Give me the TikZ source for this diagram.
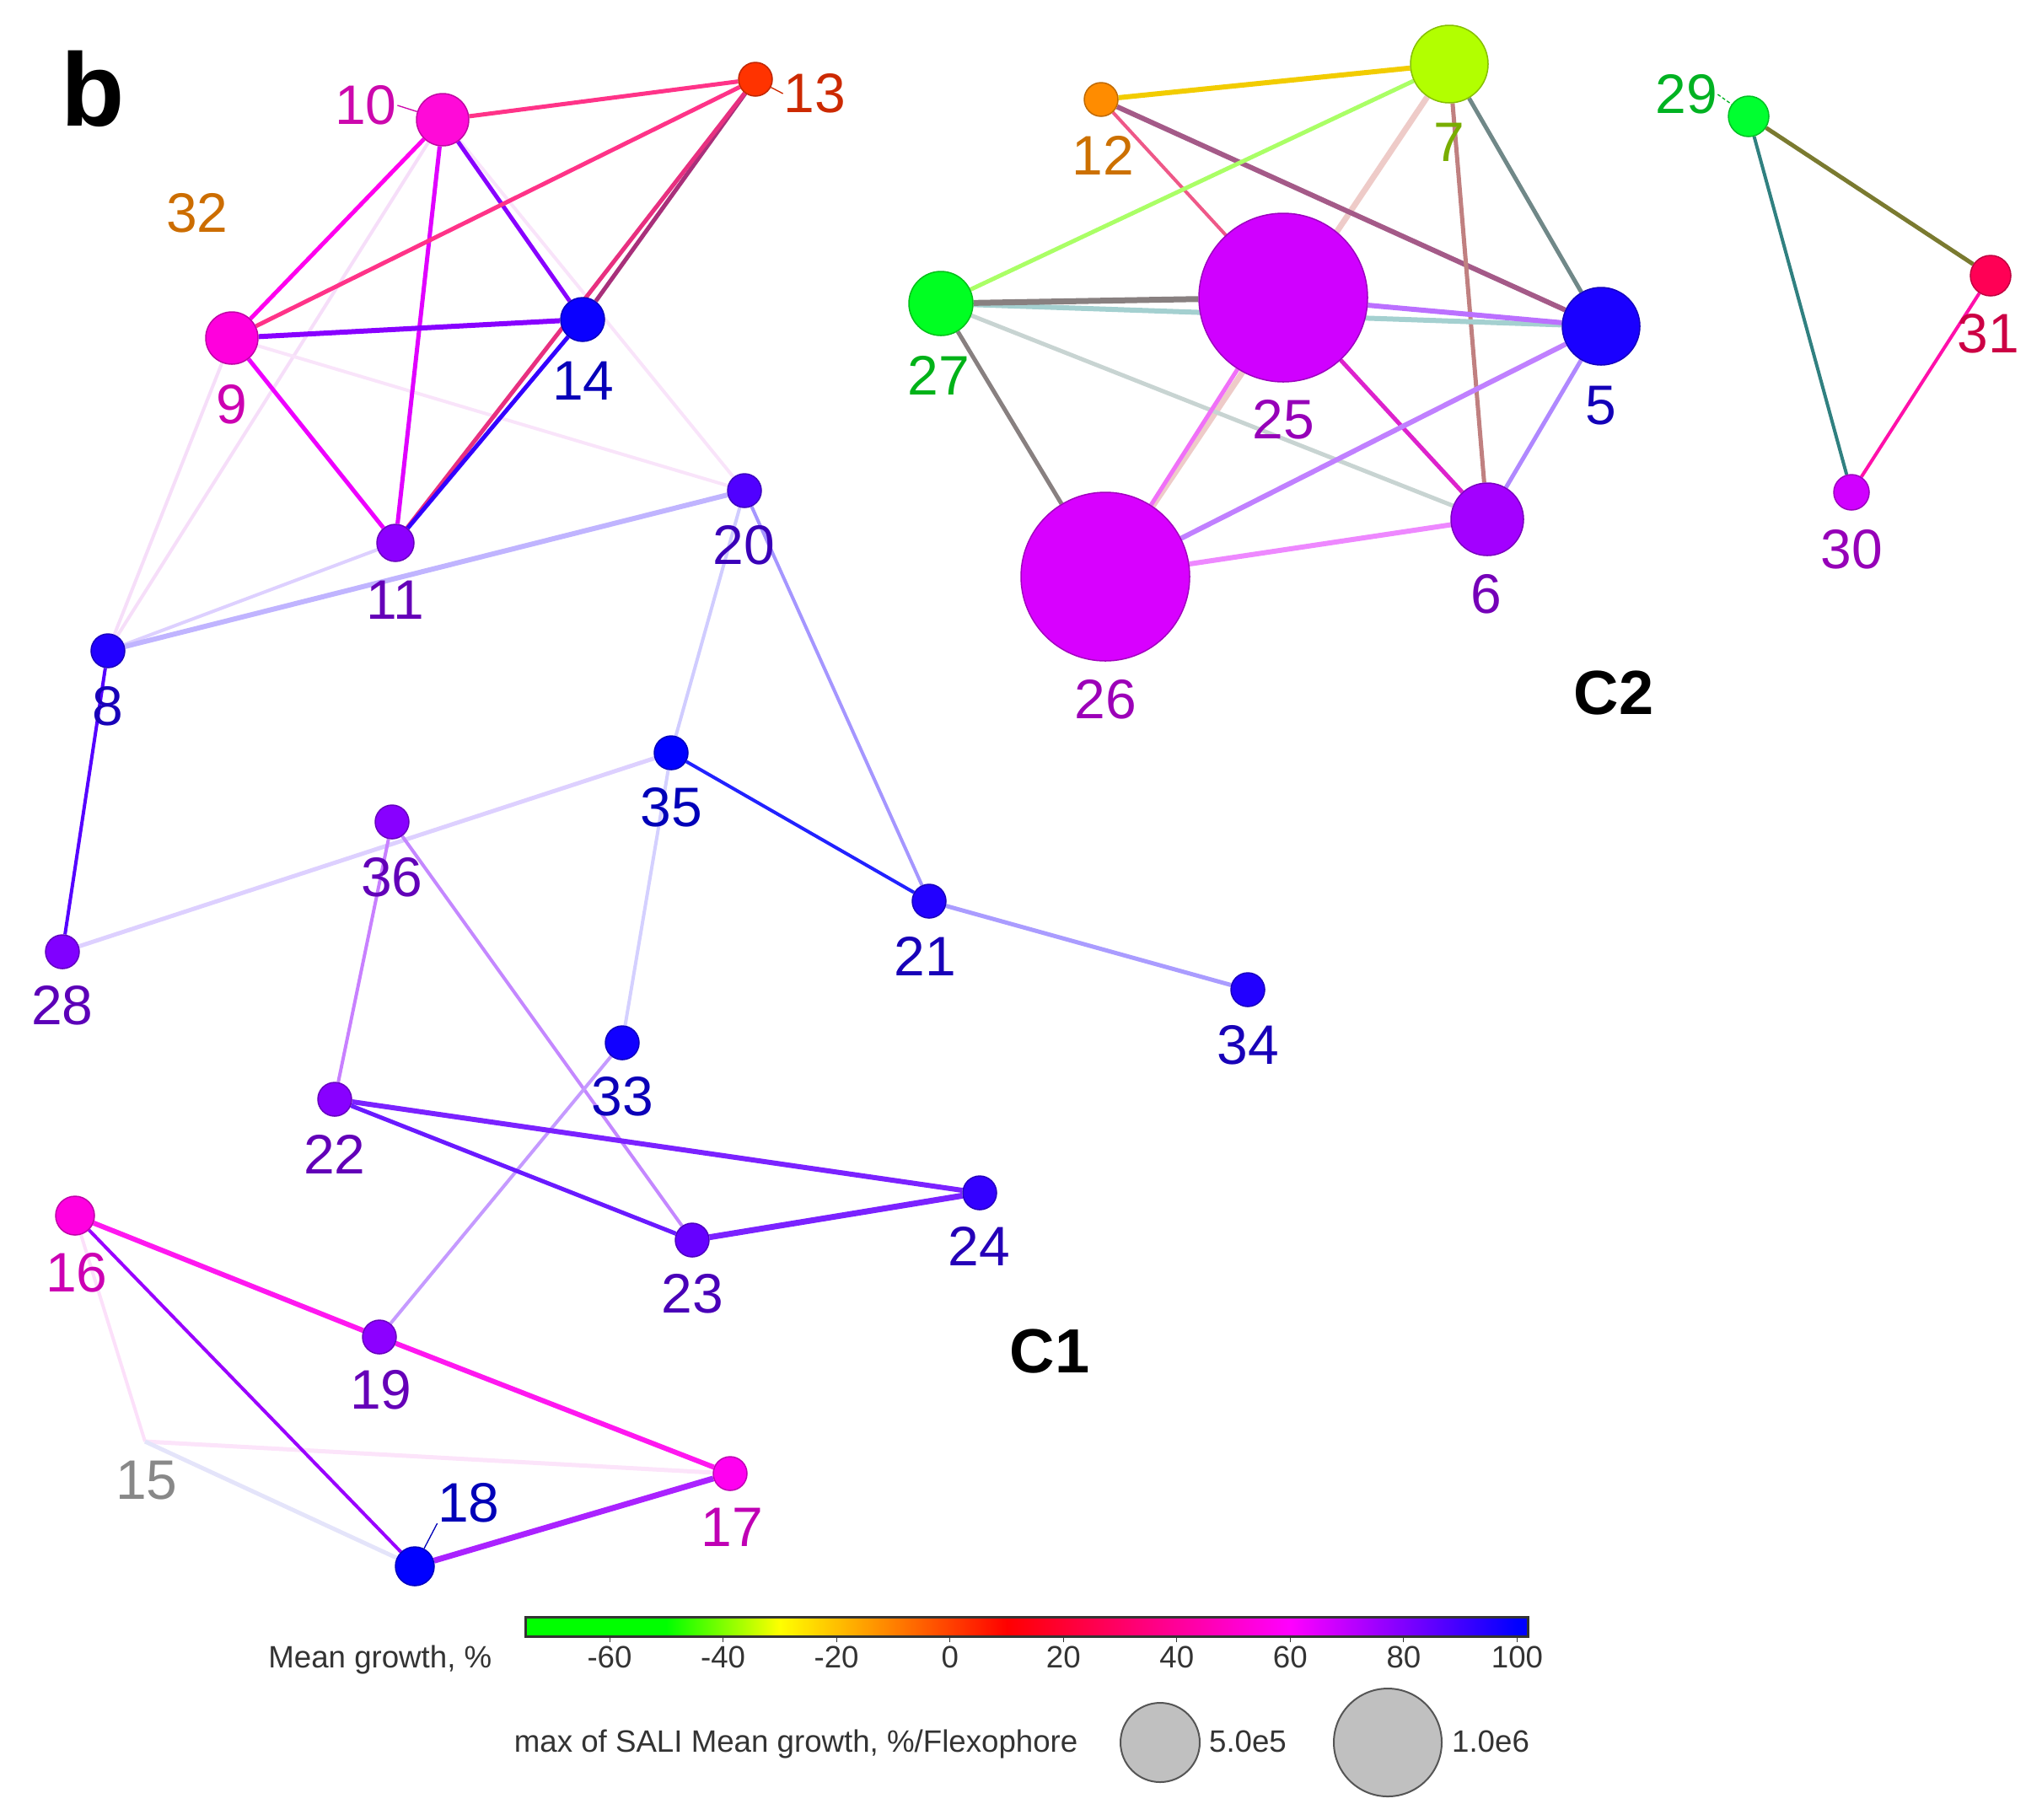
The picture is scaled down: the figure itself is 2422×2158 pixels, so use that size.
\documentclass[tikz,border=0pt]{standalone}
\usepackage{fontspec}
\setmainfont{Liberation Sans}
\pgfdeclarelayer{background}
\pgfsetlayers{background,main}
% node colours
\definecolor{c5}{HTML}{1A00FF}
\definecolor{c6}{HTML}{A300FF}
\definecolor{c7}{HTML}{B2FF00}
\definecolor{c8}{HTML}{2200FF}
\definecolor{c9}{HTML}{FF00DD}
\definecolor{c10}{HTML}{FF0AD8}
\definecolor{c11}{HTML}{8C00FF}
\definecolor{c12}{HTML}{FF8C00}
\definecolor{c13}{HTML}{FF3300}
\definecolor{c14}{HTML}{0A00FF}
\definecolor{c16}{HTML}{FF00E0}
\definecolor{c17}{HTML}{FF00F0}
\definecolor{c18}{HTML}{0000FF}
\definecolor{c19}{HTML}{8C00FF}
\definecolor{c20}{HTML}{5000FF}
\definecolor{c21}{HTML}{2200FF}
\definecolor{c22}{HTML}{8800FF}
\definecolor{c23}{HTML}{6600FF}
\definecolor{c24}{HTML}{3300FF}
\definecolor{c25}{HTML}{D000FF}
\definecolor{c26}{HTML}{D800FF}
\definecolor{c27}{HTML}{00FF22}
\definecolor{c28}{HTML}{8000FF}
\definecolor{c29}{HTML}{00FF30}
\definecolor{c30}{HTML}{D000FF}
\definecolor{c31}{HTML}{FF0055}
\definecolor{c32}{HTML}{FF8800}
\definecolor{c33}{HTML}{1100FF}
\definecolor{c34}{HTML}{2200FF}
\definecolor{c35}{HTML}{0000FF}
\definecolor{c36}{HTML}{8800FF}
\definecolor{legtext}{HTML}{333333}
\begin{document}
\begin{tikzpicture}[x=0.3pt,y=-0.3pt,
  gnode/.style={circle,inner sep=0pt,line width=0.45pt,fill=#1,draw=#1!75!black},
  lbl/.style={inner sep=0pt,font=\fontsize{19.8}{20}\selectfont},
  leg/.style={inner sep=0pt,font=\fontsize{11}{12}\selectfont,text=legtext},
  edge/.style={line width=1.5pt},
  thin/.style={line width=1.2pt},
  thick/.style={line width=1.8pt},
  vthick/.style={line width=2.1pt},
  clabel/.style={inner sep=0pt,font=\bfseries\fontsize{22.2}{23}\selectfont}]
\useasboundingbox (0,0) rectangle (2422,2158);

% ---------- nodes ----------
\coordinate (n15) at (172,1710);
\node[gnode=c5,minimum size=27.6pt] (n5) at (1899,387) {};
\node[gnode=c6,minimum size=25.8pt] (n6) at (1764,616) {};
\node[gnode=c7,minimum size=27.6pt] (n7) at (1719,76) {};
\node[gnode=c8,minimum size=12pt] (n8) at (128,772) {};
\node[gnode=c9,minimum size=18.6pt] (n9) at (275,401) {};
\node[gnode=c10,minimum size=18.6pt] (n10) at (525,142) {};
\node[gnode=c11,minimum size=13.2pt] (n11) at (469,644) {};
\node[gnode=c12,minimum size=12pt] (n12) at (1306,118) {};
\node[gnode=c13,minimum size=12pt] (n13) at (896,94) {};
\node[gnode=c14,minimum size=15.6pt] (n14) at (691,379) {};
\node[gnode=c16,minimum size=13.8pt] (n16) at (89,1442) {};
\node[gnode=c17,minimum size=12pt] (n17) at (866,1748) {};
\node[gnode=c18,minimum size=13.8pt] (n18) at (492,1858) {};
\node[gnode=c19,minimum size=12pt] (n19) at (450,1586) {};
\node[gnode=c20,minimum size=12pt] (n20) at (883,582) {};
\node[gnode=c21,minimum size=12pt] (n21) at (1102,1069) {};
\node[gnode=c22,minimum size=12pt] (n22) at (397,1304) {};
\node[gnode=c23,minimum size=12pt] (n23) at (821,1471) {};
\node[gnode=c24,minimum size=12pt] (n24) at (1162,1415) {};
\node[gnode=c25,minimum size=60pt] (n25) at (1522,353) {};
\node[gnode=c26,minimum size=60pt] (n26) at (1311,684) {};
\node[gnode=c27,minimum size=22.8pt] (n27) at (1116,360) {};
\node[gnode=c28,minimum size=12pt] (n28) at (74,1129) {};
\node[gnode=c29,minimum size=14.4pt] (n29) at (2074,138) {};
\node[gnode=c30,minimum size=12.6pt] (n30) at (2196,584) {};
\node[gnode=c31,minimum size=14.4pt] (n31) at (2361,327) {};
\node[gnode=c33,minimum size=12pt] (n33) at (738,1237) {};
\node[gnode=c34,minimum size=12pt] (n34) at (1480,1174) {};
\node[gnode=c35,minimum size=12pt] (n35) at (796,893) {};
\node[gnode=c36,minimum size=12pt] (n36) at (465,975) {};

% ---------- edges ----------
\begin{pgfonlayer}{background}
\draw[thin,draw={rgb,255:red,246;green,222;blue,249}] (n10) -- (n8);
\draw[thin,draw={rgb,255:red,249;green,228;blue,250}] (n10) -- (n20);
\draw[thin,draw={rgb,255:red,246;green,222;blue,249}] (n9) -- (n8);
\draw[thin,draw={rgb,255:red,249;green,228;blue,250}] (n9) -- (n20);
\draw[thin,draw={rgb,255:red,252;green,224;blue,250}] (n16) -- (n15);
\draw[edge,draw={rgb,255:red,252;green,228;blue,250}] (n15) -- (n17);
\draw[edge,draw={rgb,255:red,228;green,228;blue,250}] (n15) -- (n18);
\draw[thin,draw={rgb,255:red,221;green,208;blue,255}] (n11) -- (n8);
\draw[thick,draw={rgb,255:red,192;green,180;blue,255}] (n8) -- (n20);
\draw[thin,draw={rgb,255:red,208;green,204;blue,255}] (n20) -- (n35);
\draw[thin,draw={rgb,255:red,165;green,150;blue,255}] (n20) -- (n21);
\draw[edge,draw={rgb,255:red,221;green,208;blue,255}] (n35) -- (n28);
\draw[thin,draw={rgb,255:red,212;green,208;blue,255}] (n35) -- (n33);
\draw[edge,draw={rgb,255:red,170;green,156;blue,255}] (n21) -- (n34);
\draw[thin,draw={rgb,255:red,200;green,128;blue,255}] (n36) -- (n22);
\draw[thin,draw={rgb,255:red,196;green,136;blue,255}] (n36) -- (n23);
\draw[thin,draw={rgb,255:red,197;green,154;blue,255}] (n33) -- (n19);
\draw[edge,draw={rgb,255:red,255;green,0;blue,238}] (n10) -- (n9);
\draw[edge,draw={rgb,255:red,224;green,0;blue,255}] (n10) -- (n11);
\draw[edge,draw={rgb,255:red,136;green,0;blue,255}] (n10) -- (n14);
\draw[edge,draw={rgb,255:red,255;green,51;blue,136}] (n10) -- (n13);
\draw[edge,draw={rgb,255:red,255;green,51;blue,136}] (n9) -- (n13);
\draw[thick,draw={rgb,255:red,136;green,0;blue,255}] (n9) -- (n14);
\draw[edge,draw={rgb,255:red,238;green,0;blue,255}] (n9) -- (n11);
\draw[edge,draw={rgb,255:red,168;green,48;blue,122}] (n13) -- (n14);
\draw[edge,draw={rgb,255:red,232;green,48;blue,128}] (n13) -- (n11);
\draw[edge,draw={rgb,255:red,51;green,0;blue,255}] (n14) -- (n11);
\draw[thin,draw={rgb,255:red,85;green,0;blue,255}] (n8) -- (n28);
\draw[thin,draw={rgb,255:red,34;green,34;blue,255}] (n35) -- (n21);
\draw[thick,draw={rgb,255:red,123;green,34;blue,255}] (n22) -- (n24);
\draw[edge,draw={rgb,255:red,106;green,26;blue,255}] (n22) -- (n23);
\draw[vthick,draw={rgb,255:red,123;green,34;blue,255}] (n23) -- (n24);
\draw[thick,draw={rgb,255:red,255;green,24;blue,240}] (n16) -- (n19);
\draw[thick,draw={rgb,255:red,255;green,24;blue,240}] (n19) -- (n17);
\draw[thin,draw={rgb,255:red,154;green,0;blue,255}] (n16) -- (n18);
\draw[vthick,draw={rgb,255:red,170;green,34;blue,255}] (n18) -- (n17);
% cluster C2
\draw[vthick,draw={rgb,255:red,238;green,203;blue,200}] (n7) -- (n26);
\draw[thick,draw={rgb,255:red,242;green,204;blue,0}] (n12) -- (n7);
\draw[thin,draw={rgb,255:red,238;green,88;blue,136}] (n12) -- (n25);
\draw[thick,draw={rgb,255:red,164;green,90;blue,136}] (n12) -- (n5);
\draw[edge,draw={rgb,255:red,170;green,255;blue,102}] (n7) -- (n27);
\draw[edge,draw={rgb,255:red,192;green,128;blue,128}] (n7) -- (n6);
\draw[edge,draw={rgb,255:red,112;green,136;blue,136}] (n7) -- (n5);
\draw[thick,draw={rgb,255:red,164;green,208;blue,208}] (n27) -- (n5);
\draw[edge,draw={rgb,255:red,200;green,212;blue,210}] (n27) -- (n6);
\draw[vthick,draw={rgb,255:red,136;green,128;blue,128}] (n27) -- (n25);
\draw[edge,draw={rgb,255:red,136;green,128;blue,128}] (n27) -- (n26);
\draw[thick,draw={rgb,255:red,187;green,112;blue,255}] (n25) -- (n5);
\draw[edge,draw={rgb,255:red,221;green,34;blue,204}] (n25) -- (n6);
\draw[edge,draw={rgb,255:red,240;green,112;blue,248}] (n25) -- (n26);
\draw[thick,draw={rgb,255:red,192;green,128;blue,255}] (n26) -- (n5);
\draw[thick,draw={rgb,255:red,238;green,136;blue,255}] (n26) -- (n6);
\draw[edge,draw={rgb,255:red,176;green,136;blue,255}] (n5) -- (n6);
\draw[edge,draw={rgb,255:red,122;green,122;blue,48}] (n29) -- (n31);
\draw[thin,draw={rgb,255:red,48;green,128;blue,128}] (n29) -- (n30);
\draw[thin,draw={rgb,255:red,255;green,16;blue,170}] (n30) -- (n31);
\end{pgfonlayer}

% ---------- labels ----------
\node[lbl,text=c5!72!black] (l5) at (1899,481) {5};
\node[lbl,text=c6!72!black] (l6) at (1763,705) {6};
\node[lbl,text=c7!68!black] (l7) at (1719,169) {7};
\node[lbl,text=c8!72!black] (l8) at (128,838) {8};
\node[lbl,text=c9!80!black] (l9) at (275,480) {9};
\node[lbl,text=c10!80!black] (l10) at (434,125) {10};
\node[lbl,text=c11!72!black] (l11) at (469,712) {11};
\node[lbl,text=c12!80!black] (l12) at (1308,184) {12};
\node[lbl,text=c13!80!black] (l13) at (966,111) {13};
\node[lbl,text=c14!72!black] (l14) at (692,452) {14};
\node[lbl,text={rgb,255:red,136;green,136;blue,136}] (l15) at (174,1756) {15};
\node[lbl,text=c16!80!black] (l16) at (91,1510) {16};
\node[lbl,text=c17!75!black] (l17) at (868,1812) {17};
\node[lbl,text=c18!72!black] (l18) at (556,1783) {18};
\node[lbl,text=c19!72!black] (l19) at (452,1649) {19};
\node[lbl,text=c20!72!black] (l20) at (882,647) {20};
\node[lbl,text=c21!72!black] (l21) at (1097,1134) {21};
\node[lbl,text=c22!72!black] (l22) at (397,1369) {22};
\node[lbl,text=c23!72!black] (l23) at (821,1535) {23};
\node[lbl,text=c24!72!black] (l24) at (1161,1478) {24};
\node[lbl,text=c25!72!black] (l25) at (1522,498) {25};
\node[lbl,text=c26!72!black] (l26) at (1311,830) {26};
\node[lbl,text=c27!70!black] (l27) at (1113,445) {27};
\node[lbl,text=c28!72!black] (l28) at (74,1193) {28};
\node[lbl,text=c29!70!black] (l29) at (2000,112) {29};
\node[lbl,text=c30!72!black] (l30) at (2196,652) {30};
\node[lbl,text=c31!80!black] (l31) at (2358,396) {31};
\node[lbl,text=c32!80!black] (l32) at (234,253) {32};
\node[lbl,text=c33!72!black] (l33) at (738,1301) {33};
\node[lbl,text=c34!72!black] (l34) at (1480,1240) {34};
\node[lbl,text=c35!72!black] (l35) at (796,958) {35};
\node[lbl,text=c36!72!black] (l36) at (465,1041) {36};

% label leaders
\draw[line width=0.4pt,draw=c10!80!black] (l10.east) -- (n10);
\draw[line width=0.4pt,draw=c13!80!black] (l13.west) -- (n13);
\draw[line width=0.4pt,draw=c29!70!black,dash pattern=on 1.2pt off 0.8pt] (l29.east) -- (n29);
\draw[line width=0.4pt,draw=c18!72!black] (l18.south west) -- (n18);

% panel and cluster letters
\node[inner sep=0pt,font=\bfseries\fontsize{37}{38}\selectfont] (pb) at (110,105) {b};
\node[clabel] (cC1) at (1245,1603) {C1};
\node[clabel] (cC2) at (1914,822) {C2};

% ---------- legend ----------
\coordinate (cbL) at (623,1918);
\coordinate (cbR) at (1812,1941);
\fill[green] (623,1918) rectangle (791,1941);
\shade[left color=green,right color=yellow] (790,1918) rectangle (925.5,1941);
\shade[left color=yellow,right color=red] (924.8,1918) rectangle (1194.7,1941);
\shade[left color=red,right color=magenta] (1194,1918) rectangle (1531,1941);
\shade[left color=magenta,right color=blue] (1530.4,1918) rectangle (1800,1941);
\fill[blue] (1799.5,1918) rectangle (1812,1941);
\draw[legtext,line width=0.9pt] (cbL) rectangle (cbR);
\foreach \v [count=\i from 0] in {-60,-40,-20,0,20,40,60,80,100} {
  \draw[legtext,line width=0.3pt] ({723+\i*134.56},1941) -- ({723+\i*134.56},1948);
  \node[leg,anchor=base] (tick\i) at ({723+\i*134.56},1978) {\v};
}
\node[leg,anchor=base east] (legA) at (584,1978) {Mean growth, \%};
\node[leg,anchor=base east] (legB) at (1279,2078) {max of SALI Mean growth, \%/Flexophore};
\node[circle,fill={rgb,255:red,192;green,192;blue,192},draw={rgb,255:red,85;green,85;blue,85},line width=0.6pt,minimum size=28.2pt,inner sep=0pt] (s1) at (1376,2067) {};
\node[circle,fill={rgb,255:red,192;green,192;blue,192},draw={rgb,255:red,85;green,85;blue,85},line width=0.6pt,minimum size=38.4pt,inner sep=0pt] (s2) at (1646,2067) {};
\node[leg,anchor=base] (s1l) at (1480,2078) {5.0e5};
\node[leg,anchor=base] (s2l) at (1768,2078) {1.0e6};
\end{tikzpicture}
\end{document}
